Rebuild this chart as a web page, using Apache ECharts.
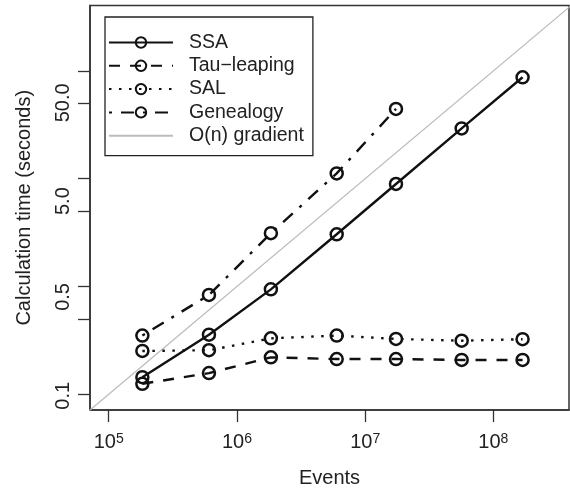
<!DOCTYPE html>
<html>
<head>
<meta charset="utf-8">
<script src="https://cdn.jsdelivr.net/npm/echarts@6/dist/echarts.min.js"></script>
<style>
html,body{margin:0;padding:0;background:#fff;}
#chart{width:570px;height:488px;}
</style>
</head>
<body>
<div id="chart"></div>
<script>
// ---- data ----
const events = [183000, 605000, 1840000, 6000000, 17400000, 56600000, 169000000];
const ssa = [0.144, 0.357, 0.94, 3.05, 8.93, 29.3, 87.3];
const tauLeaping = [0.125, 0.157, 0.220, 0.212, 0.212, 0.208, 0.208];
const sal = [0.252, 0.256, 0.330, 0.350, 0.326, 0.314, 0.324];
const genealogy = [0.350, 0.834, 3.12, 11.2, 44.4];
const gradientEvents = [50000, 500000000];
const gradientTimes = [0.05, 500];
const xTicks = [1e5, 1e6, 1e7, 1e8];
const yTicks = [0.1, 0.5, 1, 5, 10, 50, 100];
const yLabels = [0.1, 0.5, 5, 50];
const seriesNames = ['SSA', 'Tau\u2212leaping', 'SAL', 'Genealogy', 'O(n) gradient'];

const FONT = 'Liberation Sans, Arial, Helvetica, sans-serif';
const pairs = (xs, ys) => ys.map((y, i) => [xs[i], y]);

// label placement styles (the reference draws some y labels slightly off their ticks)
const yLabelStyleKey = { '0.1': 'a', '0.5': 'b', '5.0': 'c', '50.0': 'd' };
const yRichBase = { fontSize: 20, color: '#222', fontFamily: FONT };
const yRich = {
  a: { ...yRichBase, padding: [0, 3, 0, 0] },
  b: { ...yRichBase, padding: [0, 0, 0, 44] },
  c: { ...yRichBase, padding: [0, 0, 0, 20] },
  d: { ...yRichBase, padding: [0, 0, 0, 1] }
};

const pointSeries = (name, ys, dash) => ({
  name, type: 'line', data: pairs(events, ys),
  symbol: 'circle', symbolSize: 12,
  itemStyle: { color: 'rgba(255,255,255,0)', borderColor: '#111', borderWidth: 2.5 },
  lineStyle: { color: '#111', width: 2.4, type: dash, cap: 'butt' },
  clip: true, z: 3
});

const chart = echarts.init(document.getElementById('chart'), null, { renderer: 'canvas' });
chart.setOption({
  animation: false,
  backgroundColor: '#fff',
  grid: { left: 90, top: 5.5, right: 1, bottom: 78, show: true, borderColor: '#333', borderWidth: 1.5, containLabel: false, outerBoundsMode: 'none' },
  legend: {
    orient: 'vertical', left: 105, top: 17,
    itemWidth: 64, itemHeight: 13, itemGap: 3.3,
    padding: [15.5, 9, 10, 3],
    borderColor: '#222', borderWidth: 1.3, backgroundColor: '#fff',
    selectedMode: false,
    textStyle: { fontSize: 19.5, color: '#222', fontFamily: FONT, padding: [0, 0, 0, 11] },
    data: seriesNames
  },
  xAxis: {
    type: 'log', min: 71450, max: 389000000,
    name: 'Events', nameLocation: 'middle', nameGap: 58,
    nameTextStyle: { fontSize: 20, color: '#222', fontFamily: FONT },
    axisLine: { show: true, lineStyle: { color: '#333', width: 1.5 } },
    axisTick: { show: true, length: 12, lineStyle: { color: '#333', width: 1.3 }, customValues: xTicks },
    axisLabel: {
      customValues: xTicks, margin: 22,
      formatter: v => '{b|10}{s|' + Math.round(Math.log10(v)) + '}',
      rich: {
        b: { fontSize: 20, color: '#222', fontFamily: FONT },
        s: { fontSize: 14, color: '#222', fontFamily: FONT, verticalAlign: 'top', padding: [0, 0, 4, 0] }
      }
    },
    splitLine: { show: false }, minorTick: { show: false }
  },
  yAxis: {
    type: 'log', min: 0.0714, max: 404.6,
    name: 'Calculation time (seconds)', nameLocation: 'middle', nameGap: 56,
    nameTextStyle: { fontSize: 20, color: '#222', fontFamily: FONT },
    axisLine: { show: true, lineStyle: { color: '#333', width: 1.5 } },
    axisTick: { show: true, length: 12, lineStyle: { color: '#333', width: 1.3 }, customValues: yTicks },
    axisLabel: {
      customValues: yLabels, margin: 17, rotate: 90,
      fontSize: 20, color: '#222', fontFamily: FONT,
      formatter: v => { const s = Number(v).toFixed(1); return '{' + yLabelStyleKey[s] + '|' + s + '}'; },
      rich: yRich
    },
    splitLine: { show: false }, minorTick: { show: false }
  },
  series: [
    pointSeries(seriesNames[0], ssa, 'solid'),
    pointSeries(seriesNames[1], tauLeaping, [11, 10]),
    pointSeries(seriesNames[2], sal, [2.5, 7.5]),
    pointSeries(seriesNames[3], genealogy, [3, 9, 13, 9]),
    {
      name: seriesNames[4], type: 'line', data: pairs(gradientEvents, gradientTimes),
      symbol: 'none', clip: true, z: 2,
      itemStyle: { color: 'rgba(255,255,255,0)', borderWidth: 0 },
      lineStyle: { color: '#bbb', width: 1.3 }
    }
  ]
});
</script>
</body>
</html>
